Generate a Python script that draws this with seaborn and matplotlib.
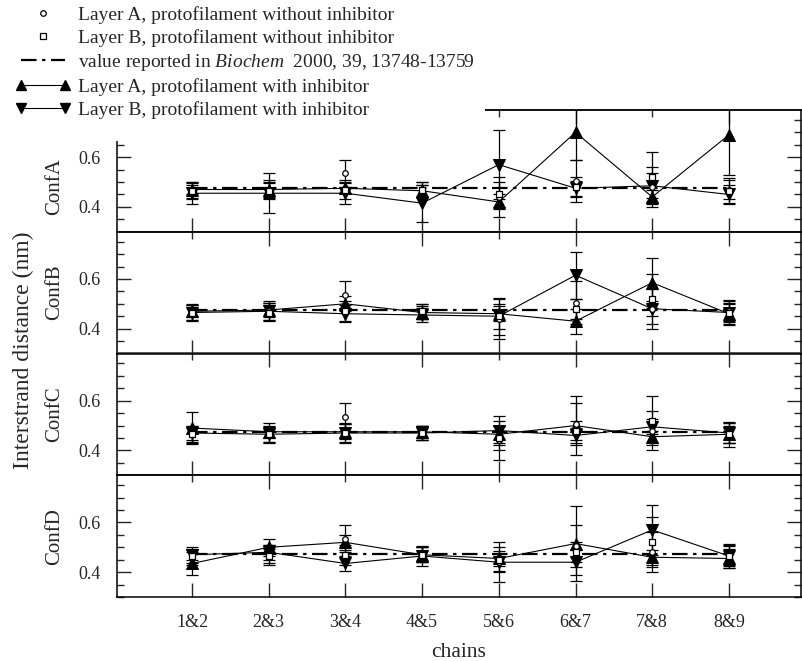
import numpy as np
import pandas as pd
import seaborn as sns
import matplotlib
matplotlib.use("Agg")
from matplotlib import pyplot as plt
from matplotlib.lines import Line2D
from matplotlib.patches import Rectangle
from matplotlib.legend_handler import HandlerLine2D
from matplotlib.ticker import MultipleLocator, FormatStrFormatter, FixedLocator

# ---- data ----
pairs = ["1&2", "2&3", "3&4", "4&5", "5&6", "6&7", "7&8", "8&9"]
confs = ["ConfA", "ConfB", "ConfC", "ConfD"]

reported = 0.475   # Biochem 2000, 39, 13748-13759

# protofilament without inhibitor (same in every panel)
noinh_A     = [0.465, 0.47, 0.535, 0.47, 0.44, 0.505, 0.48, 0.47]
noinh_A_err = [0.035, 0.04, 0.055, 0.03, 0.08, 0.085, 0.08, 0.04]
noinh_B     = [0.465, 0.465, 0.47, 0.47, 0.45, 0.48, 0.52, 0.465]
noinh_B_err = [0.03, 0.03, 0.04, 0.03, 0.05, 0.04, 0.10, 0.05]

# protofilament with inhibitor, layer A (up triangles) / layer B (down triangles)
confA_A     = [0.47, 0.47, 0.475, 0.465, 0.42, 0.70, 0.44, 0.69]
confA_A_err = [0.02, 0.03, 0.02, 0.025, 0.03, 0.11, 0.03, 0.16]
confA_B     = [0.455, 0.455, 0.455, 0.415, 0.57, 0.475, 0.485, 0.45]
confA_B_err = [0.045, 0.08, 0.045, 0.075, 0.14, 0.03, 0.05, 0.04]

confB_A     = [0.47, 0.475, 0.50, 0.465, 0.46, 0.43, 0.585, 0.46]
confB_A_err = [0.025, 0.03, 0.03, 0.025, 0.03, 0.05, 0.10, 0.04]
confB_B     = [0.465, 0.47, 0.46, 0.455, 0.45, 0.615, 0.48, 0.465]
confB_B_err = [0.03, 0.035, 0.035, 0.03, 0.075, 0.095, 0.03, 0.04]

confC_A     = [0.49, 0.475, 0.475, 0.475, 0.465, 0.50, 0.455, 0.465]
confC_A_err = [0.065, 0.025, 0.03, 0.025, 0.035, 0.12, 0.025, 0.035]
confC_B     = [0.47, 0.465, 0.47, 0.47, 0.48, 0.46, 0.495, 0.47]
confC_B_err = [0.03, 0.03, 0.035, 0.03, 0.06, 0.03, 0.03, 0.04]

confD_A     = [0.435, 0.50, 0.52, 0.47, 0.455, 0.515, 0.46, 0.455]
confD_A_err = [0.045, 0.035, 0.03, 0.03, 0.03, 0.15, 0.03, 0.04]
confD_B     = [0.47, 0.48, 0.435, 0.465, 0.44, 0.44, 0.57, 0.465]
confD_B_err = [0.02, 0.03, 0.03, 0.04, 0.035, 0.05, 0.10, 0.04]

panels = [(confA_A, confA_A_err, confA_B, confA_B_err),
          (confB_A, confB_A_err, confB_B, confB_B_err),
          (confC_A, confC_A_err, confC_B, confC_B_err),
          (confD_A, confD_A_err, confD_B, confD_B_err)]

# ---- style ----
sns.set_style("ticks")
plt.rcParams["font.family"] = ["Liberation Serif", "DejaVu Serif"]
plt.rcParams["mathtext.fontset"] = "custom"
plt.rcParams["mathtext.rm"] = "Liberation Serif"
plt.rcParams["mathtext.it"] = "Liberation Serif:italic"
plt.rcParams["axes.linewidth"] = 1.1

DASHDOT = (0, (7, 2.5, 1.5, 2.5))
ebar_kw = dict(fmt="none", ecolor="k", elinewidth=0.9, capsize=4.5, capthick=0.9)

fig, axes = plt.subplots(4, 1, figsize=(8.02, 6.61), dpi=100, sharex=True)
fig.subplots_adjust(left=117/802, right=801/802, bottom=1-597/661, top=1-110/661, hspace=0)

pos = np.arange(1, len(pairs) + 1)

for i, (ax, name, (a, ae, b, be)) in enumerate(zip(axes, confs, panels)):
    df = pd.DataFrame({"pos": pos, "noA": noinh_A, "noB": noinh_B, "A": a, "B": b})
    #
    ax.hlines(reported, pos[0], pos[-1], colors="k", lw=1.6, linestyles=DASHDOT, zorder=3)
    #
    ax.errorbar(df["pos"], df["noA"], yerr=noinh_A_err, zorder=2, **ebar_kw)
    ax.errorbar(df["pos"], df["noB"], yerr=noinh_B_err, zorder=2, **ebar_kw)
    ax.errorbar(df["pos"], df["A"], yerr=ae, zorder=2, **ebar_kw)
    ax.errorbar(df["pos"], df["B"], yerr=be, zorder=2, **ebar_kw)
    #
    sns.lineplot(data=df, x="pos", y="A", ax=ax, color="k", lw=0.8, marker="^",
                 markersize=8, markeredgecolor="k", errorbar=None, zorder=5)
    sns.lineplot(data=df, x="pos", y="B", ax=ax, color="k", lw=0.8, marker="v",
                 markersize=8, markeredgecolor="k", errorbar=None, zorder=5)
    sns.scatterplot(data=df, x="pos", y="noA", ax=ax, marker="o", s=16,
                    facecolor="white", edgecolor="k", linewidth=0.9, zorder=6)
    sns.scatterplot(data=df, x="pos", y="noB", ax=ax, marker="s", s=16,
                    facecolor="white", edgecolor="k", linewidth=0.9, zorder=6)
    #
    ax.set_xlim(0.022, 8.94)
    ax.set_ylim(0.3, 0.79)
    ax.yaxis.set_major_locator(MultipleLocator(0.2))
    ax.yaxis.set_minor_locator(MultipleLocator(0.05))
    ax.yaxis.set_major_formatter(FormatStrFormatter("%.1f"))
    ax.set_xticks(pos, pairs)
    ax.tick_params(axis="y", which="both", direction="in", left=True, right=True,
                   labelsize=13, pad=12, width=1.0)
    ax.tick_params(axis="y", which="major", length=10)
    ax.tick_params(axis="y", which="minor", length=5)
    ax.tick_params(axis="x", which="major", direction="in", bottom=True, top=False,
                   length=10, width=1.0, labelsize=13, pad=12)
    #
    sec = ax.secondary_xaxis("top")
    sec.xaxis.set_major_locator(FixedLocator(pos[1::2]))
    sec.xaxis.set_minor_locator(FixedLocator(pos[0::2]))
    sec.tick_params(which="both", direction="in", labeltop=False, width=1.0)
    sec.tick_params(which="major", length=10)
    sec.tick_params(which="minor", length=5)
    sec.spines["top"].set_linewidth(1.1)
    #
    ax.set_ylabel(name, fontsize=15)
    ax.yaxis.set_label_coords(-0.078, 0.37 if i == 0 else 0.5)
    for s in ax.spines.values():
        s.set_color("k")

axes[-1].set_xlabel("chains", fontsize=15.5, labelpad=9)
fig.text(23/802, 1 - 350/661, "Interstrand distance (nm)", rotation=90,
         ha="center", va="center", fontsize=17)

# white block behind the legend (hides the top-left corner of panel A)
fig.add_artist(Rectangle((0, 1 - 141/661), 485/802, 141/661, transform=fig.transFigure,
                         facecolor="white", edgecolor="none", zorder=10))

h_circ = Line2D([], [], ls="none", marker="o", ms=4, mfc="white", mec="k", mew=0.9)
h_sq = Line2D([], [], ls="none", marker="s", ms=4, mfc="white", mec="k", mew=0.9)
h_ref = Line2D([], [], color="k", lw=1.6, ls=DASHDOT)
h_up = Line2D([], [], color="k", lw=0.8, marker="^", ms=7, mfc="k", mec="k")
h_dn = Line2D([], [], color="k", lw=0.8, marker="v", ms=7, mfc="k", mec="k")
labels = ["Layer A, protofilament without inhibitor",
          "Layer B, protofilament without inhibitor",
          r"value reported in $\it{Biochem}$  2000, 39, 13748-13759",
          "Layer A, protofilament with inhibitor",
          "Layer B, protofilament with inhibitor"]
leg = fig.legend([h_circ, h_sq, h_ref, h_up, h_dn], labels, loc="upper left",
                 bbox_to_anchor=(15/802, 1 - 6/661), frameon=False, fontsize=14,
                 numpoints=2, handlelength=2.85, handletextpad=0.41, labelspacing=0.26,
                 borderpad=0, borderaxespad=0,
                 handler_map={h_circ: HandlerLine2D(numpoints=1),
                              h_sq: HandlerLine2D(numpoints=1)})
leg.set_zorder(11)

fig.savefig("out.png", dpi=100)
